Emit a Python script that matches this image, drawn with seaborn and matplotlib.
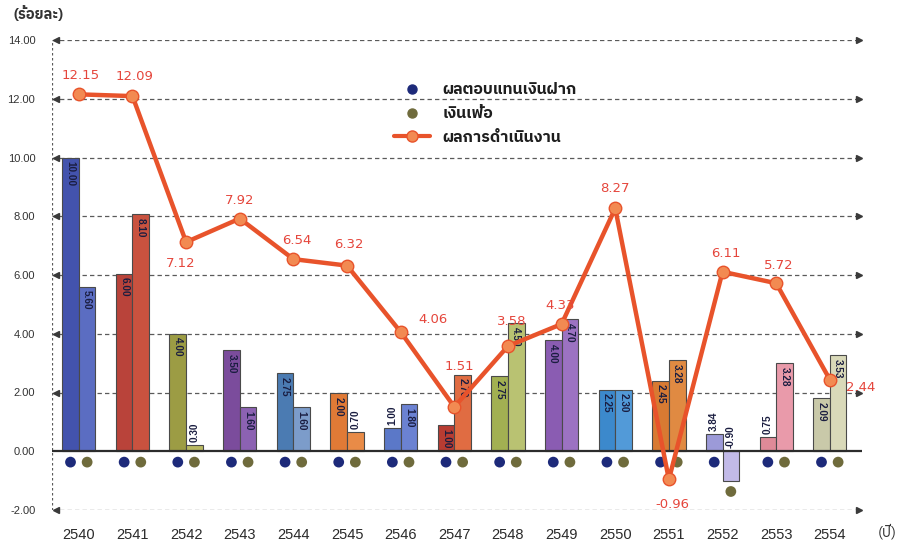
import numpy as np
import pandas as pd
import matplotlib
matplotlib.use("Agg")
import matplotlib.pyplot as plt
import matplotlib.font_manager as fm
from matplotlib.lines import Line2D
import seaborn as sns

# ---------------- data ----------------
years = ["2540", "2541", "2542", "2543", "2544", "2545", "2546", "2547",
         "2548", "2549", "2550", "2551", "2552", "2553", "2554"]
# bar heights as drawn in the picture
deposit_height = [10.0, 6.05, 4.0, 3.43, 2.65, 1.97, 0.78, 0.88, 2.55, 3.78, 2.1, 2.4, 0.58, 0.48, 1.8]
inflation_height = [5.6, 8.06, 0.2, 1.5, 1.5, 0.65, 1.6, 2.6, 4.35, 4.5, 2.1, 3.1, -1.0, 3.0, 3.26]
# printed bar labels
deposit_labels = ["10.00", "6.00", "4.00", "3.50", "2.75", "2.00", "1.00", "1.00",
                  "2.75", "4.00", "2.25", "2.45", "3.84", "0.75", "2.09"]
inflation_labels = ["5.60", "8.10", "0.30", "1.60", "1.60", "0.70", "1.80", "2.70",
                    "4.50", "4.70", "2.30", "3.28", "-0.90", "3.28", "3.53"]
performance = [12.15, 12.09, 7.12, 7.92, 6.54, 6.32, 4.06, 1.51, 3.58, 4.33, 8.27, -0.96, 6.11, 5.72, 2.44]
perf_labels = ["12.15", "12.09", "7.12", "7.92", "6.54", "6.32", "4.06", "1.51",
               "3.58", "4.33", "8.27", "-0.96", "6.11", "5.72", "2.44"]
yticks = [-2, 0, 2, 4, 6, 8, 10, 12, 14]
series_names = ["ผลตอบแทนเงินฝาก", "เงินเฟ้อ", "ผลการดำเนินงาน"]

deposit_colors = ["#4353ad", "#b9433a", "#9c9c44", "#7b4c9c", "#4b7bb2", "#e07a36", "#5b78c8", "#b83c32",
                  "#a2b052", "#8a5cb2", "#3c89cc", "#d87a32", "#9c9ad8", "#df8a98", "#c9c9a9"]
inflation_colors = ["#5b6dc2", "#c9523f", "#b9b962", "#8c62b2", "#7c9cca", "#e98b47", "#6b82d2", "#e06c42",
                    "#b9c272", "#9c72c2", "#529ad8", "#e08a42", "#c2bae8", "#e99aaa", "#d9d9b9"]
# ---------------------------------------

# find a font with Thai glyphs
thai_font = None
try:
    from fontTools.ttLib import TTFont
    cands = []
    for f in fm.fontManager.ttflist:
        try:
            tt = TTFont(f.fname, fontNumber=0, lazy=True)
            cmap = tt.getBestCmap()
            if cmap and 0x0E1C in cmap and 0x0E49 in cmap:
                cands.append(f.name)
        except Exception:
            pass
    pref = [c for c in cands if "Sans" in c and "Mono" not in c]
    thai_font = (pref or cands or [None])[0]
except Exception:
    thai_font = None

sns.set_theme(style="white")
fam = ([thai_font] if thai_font else []) + ["DejaVu Sans"]
plt.rcParams["font.family"] = fam

fig = plt.figure(figsize=(8.98, 5.49), dpi=100)
ax = fig.add_axes([52 / 898, 1 - 510 / 549, (862 - 52) / 898, (510 - 40) / 549])

n = len(years)
pos = np.arange(n)

df = pd.DataFrame({
    "year": years * 2,
    "value": deposit_height + inflation_height,
    "series": [series_names[0]] * n + [series_names[1]] * n,
})
sns.barplot(data=df, x="year", y="value", hue="series", order=years,
            hue_order=series_names[:2], width=0.62, dodge=True, errorbar=None,
            legend=False, ax=ax, gap=0)

for p in ax.patches:
    cx = p.get_x() + p.get_width() / 2
    i = int(round(cx))
    if i < 0 or i >= n:
        continue
    col = deposit_colors[i] if cx < i else inflation_colors[i]
    p.set_facecolor(col)
    p.set_edgecolor("#4a4a4a")
    p.set_linewidth(0.8)
    p.set_zorder(3)

off = 0.155
# bar labels
outside = {(2, 1), (5, 1), (6, 0), (12, 0), (12, 1), (13, 0)}
lab_kw = dict(fontsize=7.2, color="#1a1d40", fontweight="bold", family=["Liberation Sans", "DejaVu Sans"], zorder=6)
for s, (hts, labs) in enumerate([(deposit_height, deposit_labels), (inflation_height, inflation_labels)]):
    for i in range(n):
        x = i - off if s == 0 else i + off
        h = hts[i]
        if (i, s) in outside:
            base = max(h, 0) + 0.12
            ax.text(x, base, labs[i], rotation=90, ha="center", va="bottom", **lab_kw)
        else:
            ax.text(x, h - 0.12, labs[i], rotation=270, ha="center", va="top", **lab_kw)

# dots under bars
dot_x = np.concatenate([pos - off, pos + off])
dot_y = np.concatenate([np.minimum(0, deposit_height), np.minimum(0, inflation_height)]) - 0.37
dot_c = ["#1d2a7a"] * n + ["#6f6b3c"] * n
sns.scatterplot(x=dot_x, y=dot_y, c=dot_c, s=60, edgecolor="none", ax=ax, zorder=5, legend=False)

# grid lines with arrows
x0, x1 = -0.5, 14.6
for y in yticks:
    if y == 0:
        continue
    ax.plot([x0, x1 - 0.08], [y, y], ls=(0, (3.5, 2.5)), color="#5a5a5a", lw=0.9, zorder=1)
    ax.plot([x1 - 0.05], [y], marker=">", ms=5, color="#3a3a3a", clip_on=False, zorder=2)
    ax.plot([x0 + 0.08], [y], marker="<", ms=4.5, color="#3a3a3a", clip_on=False, zorder=2)
ax.plot([x0, x1], [0, 0], color="#2c2c2c", lw=1.6, zorder=4)
ax.plot([x0, x0], [-2, 14], ls=(0, (2, 2)), color="#5a5a5a", lw=0.9, zorder=1)

# performance line
sns.lineplot(x=pos, y=performance, color="#e8532b", lw=3.2, marker="o", ms=9,
             markerfacecolor="#f28a52", markeredgecolor="#e8532b", markeredgewidth=1,
             ax=ax, zorder=7, legend=False)

# performance labels: offsets in pixels (dx, dy)
offsets = [(2, 19), (2, 20), (-5, -21), (0, 18), (3, 19), (2, 21), (32, 12), (5, 40),
           (4, 25), (-1, 19), (0, 20), (3, -25), (3, 18), (3, 18), (31, -8)]
for i in range(n):
    dx, dy = offsets[i]
    ax.annotate(perf_labels[i], (pos[i], performance[i]), xytext=(dx * 0.72, dy * 0.72),
                textcoords="offset points", ha="center", va="center", fontsize=9.5,
                color="#e5463c", zorder=8, family=["DejaVu Sans"])

ax.set_xlim(x0, x1)
ax.set_ylim(-2, 14)
ax.set_yticks(yticks)
ax.set_yticklabels([f"{v:.2f}" for v in yticks], fontsize=8, color="#333333",
                   family=["Liberation Sans", "DejaVu Sans"])
ax.set_xticks(pos)
ax.set_xticklabels(years, fontsize=10.5, color="#2a2a2a", family=["Liberation Sans", "DejaVu Sans"])
ax.tick_params(axis="y", length=0, pad=12)
ax.tick_params(axis="x", length=0, pad=13)
ax.set_xlabel("")
ax.set_ylabel("")
for sp in ax.spines.values():
    sp.set_visible(False)
ax.set_facecolor("white")

fig.text(38 / 898, 1 - 14 / 549, "(ร้อยละ)", ha="center", va="center", fontsize=10.5,
         color="#333333", fontweight="bold")
fig.text(887 / 898, 1 - 532 / 549, "(ปี)", ha="center", va="center", fontsize=10.5,
         color="#333333")

handles = [
    Line2D([], [], ls="none", marker="o", ms=6.5, color="#1d2a7a"),
    Line2D([], [], ls="none", marker="o", ms=6.5, color="#6f6b3c"),
    Line2D([], [], color="#e8532b", lw=3, marker="o", ms=8, markerfacecolor="#f28a52",
           markeredgecolor="#e8532b"),
]
leg = ax.legend(handles, series_names, loc="upper left", bbox_to_anchor=(380 / 898, 1 - 68 / 549),
                bbox_transform=fig.transFigure, frameon=False, fontsize=11.5, handlelength=2.2,
                labelspacing=0.55, handletextpad=0.8)
for t in leg.get_texts():
    t.set_color("#1e1e1e")
    t.set_fontweight("bold")

fig.savefig("out.png", dpi=100, facecolor="white")
